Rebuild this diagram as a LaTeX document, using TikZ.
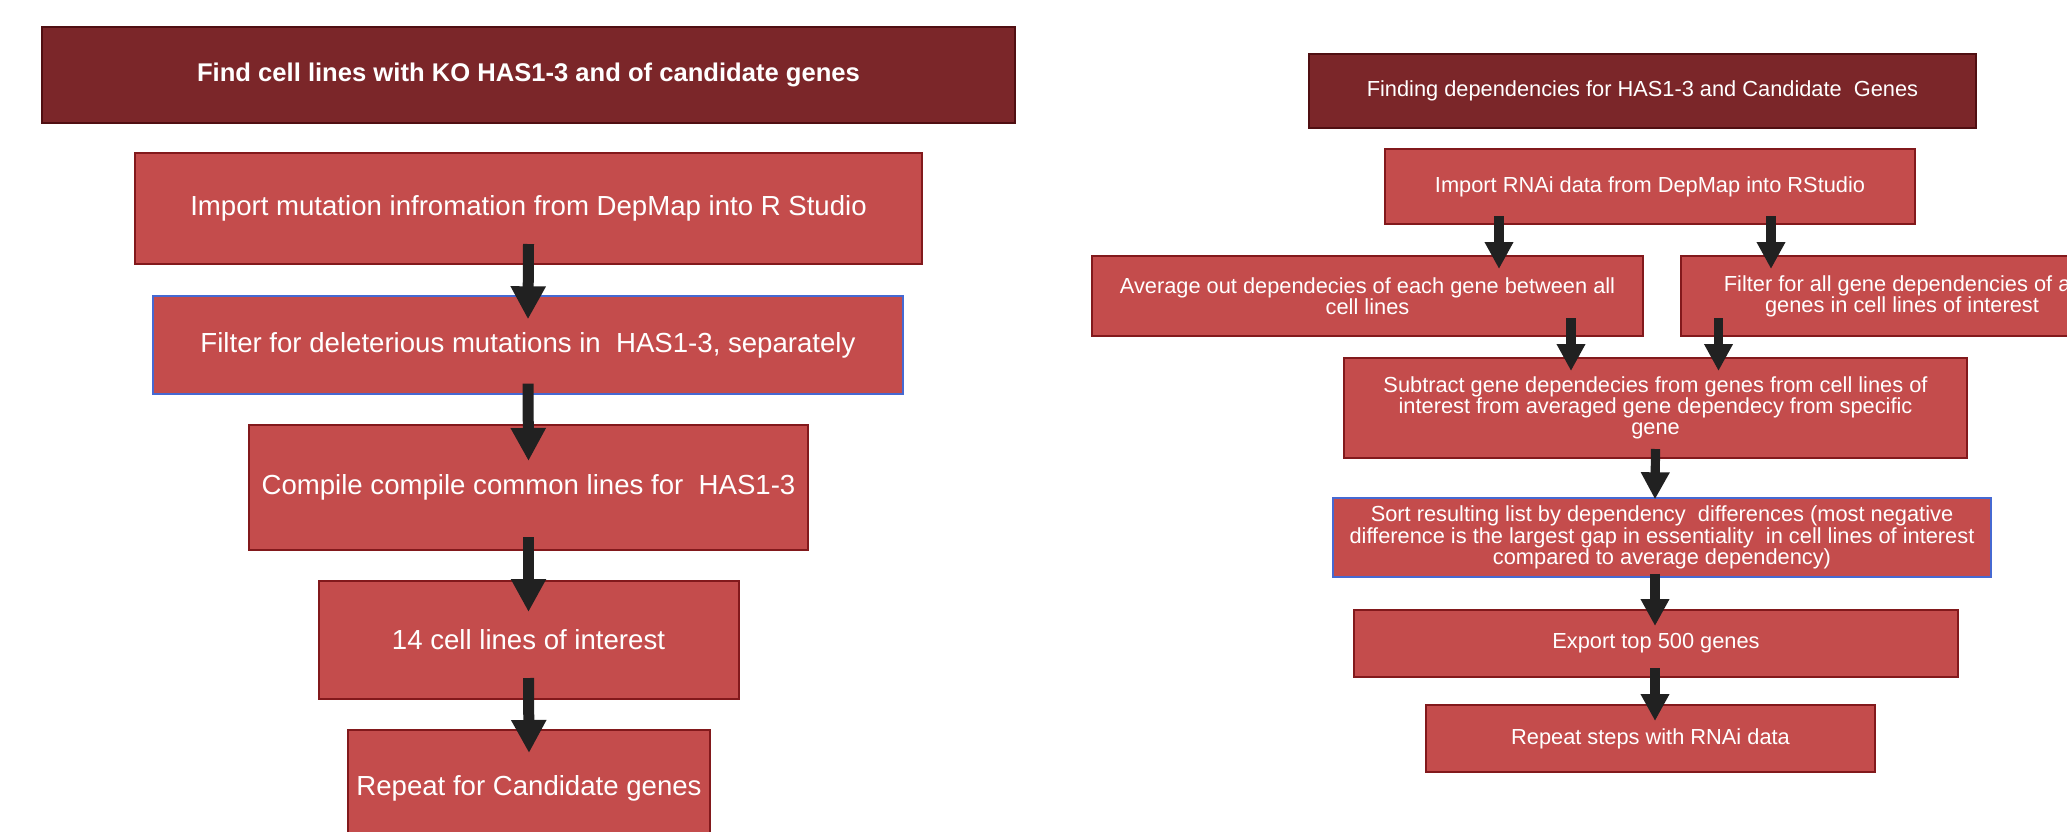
\documentclass[tikz,border=0pt]{standalone}
\usepackage{fontspec}
\setmainfont{Liberation Sans}
\usetikzlibrary{arrows.meta}
\definecolor{titlered}{RGB}{123,38,41}
\definecolor{titleline}{RGB}{80,15,18}
\definecolor{boxred}{RGB}{196,76,76}
\definecolor{boxline}{RGB}{130,25,28}
\definecolor{pickblue}{RGB}{70,105,210}
\definecolor{arrowgray}{RGB}{33,33,33}
\begin{document}
\begin{tikzpicture}[x=0.5pt,y=-0.5pt,
  titlebox/.style={draw=titleline,fill=titlered,line width=1pt,text=white,inner sep=0pt,align=center},
  stepbox/.style={draw=boxline,fill=boxred,line width=1pt,text=white,inner sep=0pt,align=center},
  picked/.style={draw=pickblue,line width=0.7pt},
  bigfont/.style={font=\fontsize{13.8}{16}\selectfont},
  smallfont/.style={font=\fontsize{10.9}{10.6}\selectfont},
  bigarrow/.style={arrowgray,line width=5.5pt,-{Triangle[length=16.5pt,width=16.5pt]}},
  smallarrow/.style={arrowgray,line width=4.6pt,-{Triangle[length=13.5pt,width=13.5pt]}}]
\clip (0,0) rectangle (2067,831);
% left flow: knock-out cell lines
\node (ltitle) [titlebox,font=\fontsize{12.8}{15}\selectfont\bfseries,minimum width=486.5pt,minimum height=48pt] at (528.5,75) {Find cell lines with KO HAS1-3 and of candidate genes};
\node (limport) [stepbox,bigfont,minimum width=393.5pt,minimum height=55.5pt] at (528.5,208.5) {Import mutation infromation from DepMap into R Studio};
\node (lfilter) [stepbox,picked,bigfont,minimum width=375pt,minimum height=49pt] at (528,345) {Filter for deleterious mutations in\ \ HAS1-3, separately};
\node (lcompile) [stepbox,bigfont,minimum width=279.5pt,minimum height=62.5pt] at (528.5,487.5) {Compile compile common lines for\ \ HAS1-3};
\node (llines) [stepbox,bigfont,minimum width=210pt,minimum height=59pt] at (528.5,640) {14 cell lines of interest};
\node (lrepeat) [stepbox,bigfont,minimum width=181pt,minimum height=58pt] at (529,788) {Repeat for Candidate genes};
\draw[bigarrow] ([yshift=10.5pt]limport.south) -- ([yshift=-12pt]lfilter.north);
\draw[bigarrow] ([yshift=5.5pt]lfilter.south) -- ([yshift=-18.5pt]lcompile.north);
\draw[bigarrow] ([yshift=7pt]lcompile.south) -- ([yshift=-16pt]llines.north);
\draw[bigarrow] ([yshift=11pt]llines.south) -- ([yshift=-12pt]lrepeat.north);
% right flow: dependencies
\node (rtitle) [titlebox,smallfont,minimum width=333.5pt,minimum height=37pt] at (1642.5,91) {Finding dependencies for HAS1-3 and Candidate\ \ Genes};
\node (rimport) [stepbox,smallfont,minimum width=265pt,minimum height=37.5pt] at (1650,186.5) {Import RNAi data from DepMap into RStudio};
\node (ravg) [stepbox,smallfont,minimum width=275.5pt,minimum height=40pt] at (1367.5,296) {Average out dependecies of each gene between all\\cell lines};
\node (rfilter) [stepbox,smallfont,minimum width=221pt,minimum height=40pt] at (1902,296) {Filter for all gene dependencies of all\\genes in cell lines of interest};
\node (rsub) [stepbox,smallfont,minimum width=311.5pt,minimum height=50pt] at (1655.5,408) {Subtract gene dependecies from genes from cell lines of\\interest from averaged gene dependecy from specific\\gene};
\node (rsort) [stepbox,picked,smallfont,minimum width=329pt,minimum height=39.5pt] at (1662,537.5) {Sort resulting list by dependency\ \ differences (most negative\\difference is the largest gap in essentiality\ \ in cell lines of interest\\compared to average dependency)};
\node (rexport) [stepbox,smallfont,minimum width=302pt,minimum height=33.5pt] at (1656,643.5) {Export top 500 genes};
\node (rrepeat) [stepbox,smallfont,minimum width=224.5pt,minimum height=33.5pt] at (1650.5,738.5) {Repeat steps with RNAi data};
\draw[smallarrow] ([xshift=-75.5pt,yshift=4.5pt]rimport.south) -- ([xshift=65.75pt,yshift=-7pt]ravg.north);
\draw[smallarrow] ([xshift=60.5pt,yshift=4.5pt]rimport.south) -- ([xshift=-65.5pt,yshift=-7pt]rfilter.north);
\draw[smallarrow] ([xshift=101.75pt,yshift=9.5pt]ravg.south) -- ([xshift=-42.25pt,yshift=-7pt]rsub.north);
\draw[smallarrow] ([xshift=-91.75pt,yshift=9.5pt]rfilter.south) -- ([xshift=31.5pt,yshift=-7pt]rsub.north);
\draw[smallarrow] ([yshift=5pt]rsub.south) -- ([xshift=-3.5pt,yshift=-1pt]rsort.north);
\draw[smallarrow] ([xshift=-3.5pt,yshift=2pt]rsort.south) -- ([xshift=-0.5pt,yshift=-8.5pt]rexport.north);
\draw[smallarrow] ([xshift=-0.5pt,yshift=5pt]rexport.south) -- ([xshift=2.25pt,yshift=-8.5pt]rrepeat.north);
\end{tikzpicture}
\end{document}
